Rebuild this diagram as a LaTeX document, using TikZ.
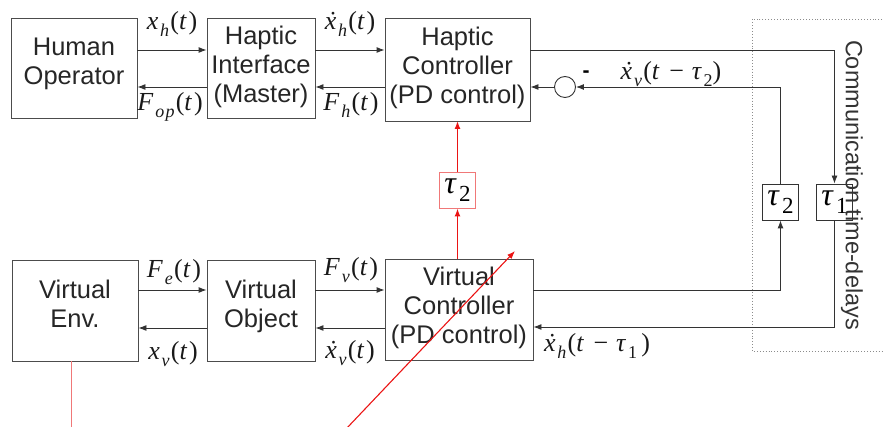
\documentclass[tikz,border=0pt]{standalone}
\usepackage{fontspec}
\setmainfont{Liberation Sans}
\newfontfamily\tms[LetterSpace=7]{Liberation Serif}
\usetikzlibrary{arrows.meta}

% italic variable, lowered subscript, dotted x, spaced minus
\newcommand{\vi}[1]{\textit{#1}}
\newcommand{\sbs}[2][18]{\raisebox{-0.26em}{\fontsize{#1}{#1}\selectfont #2}}
\newcommand{\dotx}{\vi{x}\llap{\vi{\char"02D9}\hspace{0.02em}}}
\newcommand{\mns}{\hspace{0.3em}−\hspace{0.3em}}

\definecolor{sigred}{RGB}{235,20,20}
\definecolor{softred}{RGB}{240,120,120}

\begin{document}
\begin{tikzpicture}[x=1pt,y=-1pt,
  blk/.style={draw=black!70, line width=0.9pt, inner sep=0pt},
  txt/.style={align=center, text=black!85, font=\fontsize{25.5}{29}\selectfont, inner sep=0pt},
  dly/.style={draw=black!80, line width=0.9pt, minimum width=36pt, minimum height=36pt,
              inner sep=0pt, font=\tms\fontsize{32}{32}\selectfont},
  sig/.style={draw=black!80, line width=0.9pt},
  arr/.style={sig, -{Latex[length=8pt,width=6pt]}},
  rarr/.style={draw=sigred, line width=1.5pt, -{Latex[length=8pt,width=6pt]}},
  lbl/.style={font=\tms\fontsize{26}{28}\selectfont, inner sep=0pt, text=black!90},
]
\useasboundingbox (0,0) rectangle (883,427);

% communication delay region (extends past the right edge)
\draw[black!45, dotted, line width=0.9pt] (752.5,19.5) rectangle (900,351.5);
\node[rotate=-90, text=black!80, font=\fontsize{23.5}{24}\selectfont, inner sep=0pt]
  (CT) at (852,185) {Communication time-delays};

% master side
\node[blk, minimum width=126pt, minimum height=100pt] (HO) at (74,68) {};
\node[blk, minimum width=108pt, minimum height=100pt] (HI) at (261,68) {};
\node[blk, minimum width=145pt, minimum height=103pt] (HC) at (457.5,69.5) {};
\node[txt] (HOt) at ([yshift=4pt]HO.center) {Human\\Operator};
\node[txt] (HIt) at ([yshift=1pt]HI.center) {Haptic\\Interface\\(Master)};
\node[txt] (HCt) at ([yshift=2pt]HC.center) {Haptic\\Controller\\(PD control)};

% slave / virtual side
\node[blk, minimum width=126pt, minimum height=101pt] (VE) at (75,310.5) {};
\node[blk, minimum width=108pt, minimum height=101pt] (VO) at (261,310.5) {};
\node[blk, minimum width=148pt, minimum height=101pt] (VC) at (459,309.5) {};
\node[txt] (VEt) at ([yshift=7pt]VE.center) {Virtual\\Env.};
\node[txt] (VOt) at ([yshift=4pt]VO.center) {Virtual\\Object};
\node[txt] (VCt) at ([yshift=2pt]VC.center) {Virtual\\Controller\\(PD control)};

% delay blocks
\node[dly] (T2) at (780.5,202) {\vi{τ}\sbs[23]{2}};
\node[dly] (T1) at (834.5,202) {\vi{τ}\sbs[23]{1}};
\node[dly, draw=softred] (RT) at (457.5,190) {\vi{τ}\sbs[23]{2}};

% summing junction
\node[draw=black!80, line width=0.9pt, circle, minimum size=21pt, inner sep=0pt] (S) at (565,87) {};
\node[font=\bfseries\fontsize{21}{21}\selectfont, inner sep=0pt] (minus) at (586,74) {-};

% master row connectors
\draw[arr] (HO.east |- 0,50) -- (HI.west |- 0,50);
\draw[arr] (HI.west |- 0,87) -- (HO.east |- 0,87);
\draw[arr] (HI.east |- 0,50) -- (HC.west |- 0,50);
\draw[arr] (HC.west |- 0,87) -- (HI.east |- 0,87);

% virtual row connectors
\draw[arr] (VE.east |- 0,290) -- (VO.west |- 0,290);
\draw[arr] (VO.west |- 0,328) -- (VE.east |- 0,328);
\draw[arr] (VO.east |- 0,290) -- (VC.west |- 0,290);
\draw[arr] (VC.west |- 0,328) -- (VO.east |- 0,328);

% communication channel
\draw[arr] (HC.east |- 0,50) -| (T1.north);
\draw[arr] (T1.south) |- (VC.east |- 0,327);
\draw[arr] (VC.east |- 0,290) -| (T2.south);
\draw[arr] (T2.north) |- (S.east);
\draw[arr] (S.west) -- (HC.east |- S.west);

% red delay path: shafts filled as thin bars, tips from the arrows
\coordinate (r0) at (457.5,259);
\coordinate (r1) at (457.5,121);
\fill[sigred] ([xshift=-0.8pt]r0) rectangle ([xshift=0.8pt,yshift=-4pt]RT.south);
\fill[sigred] ([xshift=-0.8pt]RT.north) rectangle ([xshift=0.8pt,yshift=-4pt]r1);
\draw[rarr] (r0) -- (RT.south);
\draw[rarr] (RT.north) -- (r1);
\coordinate (d0) at (346,429);
\coordinate (d1) at (515,251);
\draw[rarr, line width=1.1pt] (d0) -- (d1);
\coordinate (e0) at (71.5,361);
\coordinate (e1) at (71.5,430);
\fill[softred] ([xshift=-0.8pt]e0) rectangle ([xshift=0.8pt]e1);

% signal labels
\node[lbl] (l1) at (172,24) {\vi{x}\sbs{\vi{h}}(\vi{t})};
\node[lbl] (l2) at (170,107) {\vi{F}\sbs{\vi{op}}(\vi{t})};
\node[lbl] (l3) at (350,24) {\dotx\sbs{\vi{h}}(\vi{t})};
\node[lbl] (l4) at (351,105) {\vi{F}\sbs{\vi{h}}(\vi{t})};
\node[lbl] (l5) at (174,272) {\vi{F}\sbs{\vi{e}}(\vi{t})};
\node[lbl] (l6) at (173,354) {\vi{x}\sbs{\vi{v}}(\vi{t})};
\node[lbl] (l7) at (351,270) {\vi{F}\sbs{\vi{v}}(\vi{t})};
\node[lbl] (l8) at (350,353) {\dotx\sbs{\vi{v}}(\vi{t})};
\node[lbl] (l9) at (671,74) {\dotx\sbs{\vi{v}}(\vi{t}\mns\vi{τ}\sbs{2})};
\node[lbl] (l10) at (597,346) {\dotx\sbs{\vi{h}}(\vi{t}\mns\vi{τ}\sbs{1}\,)};
\end{tikzpicture}
\end{document}
